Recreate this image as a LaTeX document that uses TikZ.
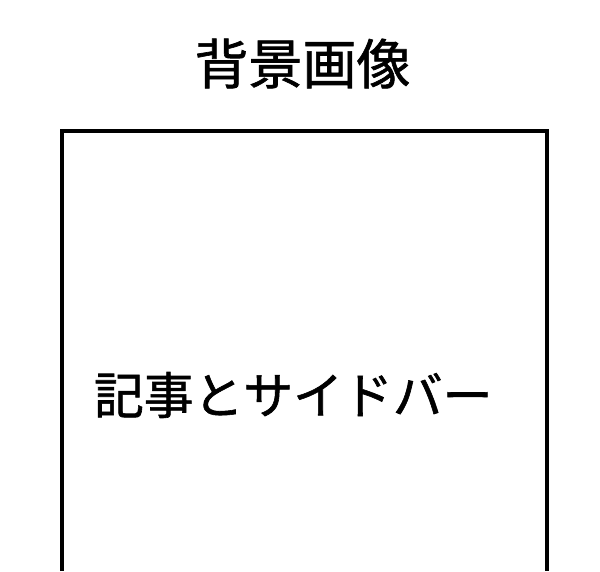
\documentclass[tikz,border=0pt]{standalone}
\usepackage{fontspec}
\newfontfamily\cjk[FakeBold=1.2]{Noto Sans CJK JP}
\tikzset{
  frameline/.style={line width=4pt, line join=miter, black},
  label/.style={inner sep=0pt, outer sep=0pt, font=\cjk},
}
\begin{document}
\begin{tikzpicture}[x=1pt,y=-1pt]
\useasboundingbox (0,0) rectangle (600,571);
\draw[frameline] (61.5,571) -- (61.5,131) -- (547,131) -- (547,571);
\node[label, font=\cjk\fontsize{54}{60}\selectfont] (title) at (302.5,63.5) {背景画像};
\node[label, anchor=west, font=\cjk\fontsize{49.8}{56}\selectfont] (body) at (94,395) {記事とサイドバー};
\end{tikzpicture}
\end{document}
